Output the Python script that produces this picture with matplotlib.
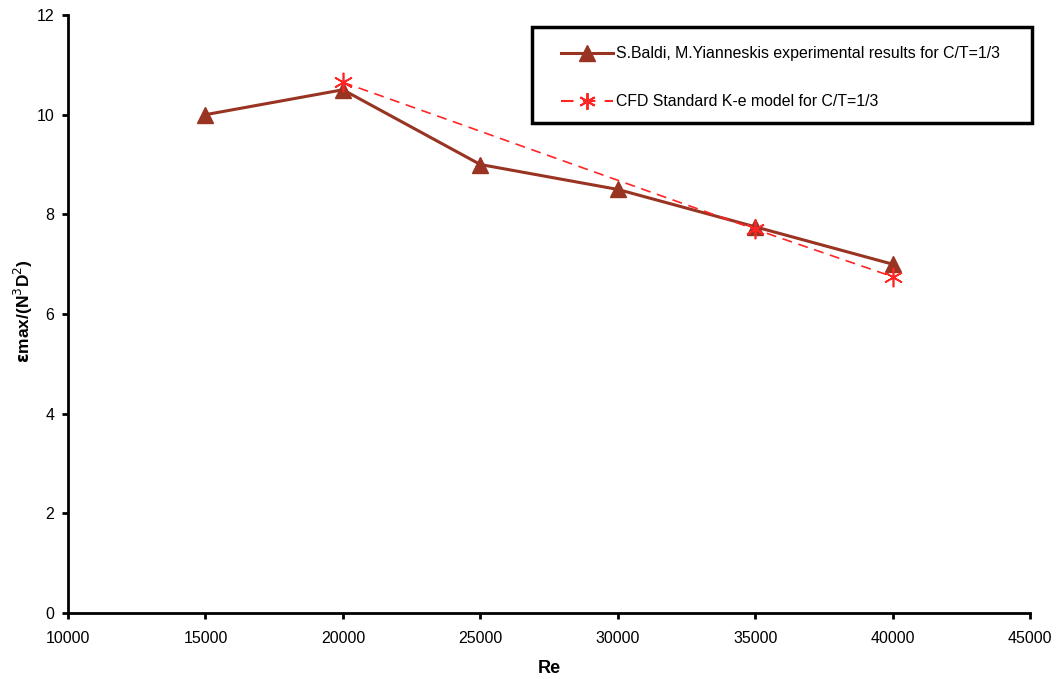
import numpy as np
import matplotlib
matplotlib.use('Agg')
import matplotlib.pyplot as plt
from matplotlib.lines import Line2D
from matplotlib.patches import Rectangle

plt.rcParams['font.family'] = ['Liberation Sans', 'DejaVu Sans']

# experimental data (Baldi & Yianneskis)
Re_exp = [15000, 20000, 25000, 30000, 35000, 40000]
eps_exp = [10.0, 10.5, 9.0, 8.5, 7.75, 7.0]

# CFD standard k-e model
Re_cfd = [20000, 35000, 40000]
eps_cfd = [10.65, 7.7, 6.75]

lab_exp = 'S.Baldi, M.Yianneskis experimental results for C/T=1/3'
lab_cfd = 'CFD Standard K-e model for C/T=1/3'

brown = '#993322'
red = '#FF2525'

fig = plt.figure(figsize=(10.6, 6.79), dpi=100)
ax = fig.add_axes([0.0642, 0.0972, 0.9075, 0.8807])

ax.plot(Re_exp, eps_exp, color=brown, lw=2.2, marker='^', markersize=11,
        zorder=3)
ax.plot(Re_cfd, eps_cfd, color=red, lw=1.2, ls=(0, (6, 4)), marker=(6, 2, 0),
        markersize=14, markeredgewidth=1.2, zorder=4)

ax.set_xlim(10000, 45000)
ax.set_ylim(0, 12)
ax.set_xticks(np.arange(10000, 45001, 5000))
ax.set_yticks(np.arange(0, 13, 2))
ax.tick_params(labelsize=11.5, width=2, length=4, direction='out', pad=6)
ax.tick_params(axis='x', pad=9)
for s in ['top', 'right']:
    ax.spines[s].set_visible(False)
for s in ['left', 'bottom']:
    ax.spines[s].set_linewidth(2)

ax.set_xlabel('Re', fontsize=13, fontweight='bold', labelpad=10)
ax.set_ylabel(r'$\mathbf{\varepsilon}$max/(N$^3$D$^2$)', fontsize=12.5,
              fontweight='bold')
ax.yaxis.set_label_coords(-0.034, 0.505)

# legend box drawn separately, legend itself unframed
ax.add_patch(Rectangle((0.4823, 0.819), 0.5197, 0.161, transform=ax.transAxes,
                       facecolor='white', edgecolor='black', lw=2.5,
                       clip_on=False, zorder=5))
h1 = Line2D([], [], color=brown, lw=2.2, marker='^', markersize=11)
h2 = Line2D([], [], color=red, lw=1.5, ls=(0, (6, 4.5)), marker=(6, 2, 0),
            markersize=12, markeredgewidth=1.4)
leg = ax.legend([h1, h2], [lab_exp, lab_cfd], loc='upper left',
                bbox_to_anchor=(0.5125, 0.948), fontsize=11.4,
                frameon=False, borderpad=0, labelspacing=2.1,
                handlelength=3.3, handletextpad=0.2, borderaxespad=0)
leg.set_zorder(6)

fig.savefig('out.png', dpi=100)
